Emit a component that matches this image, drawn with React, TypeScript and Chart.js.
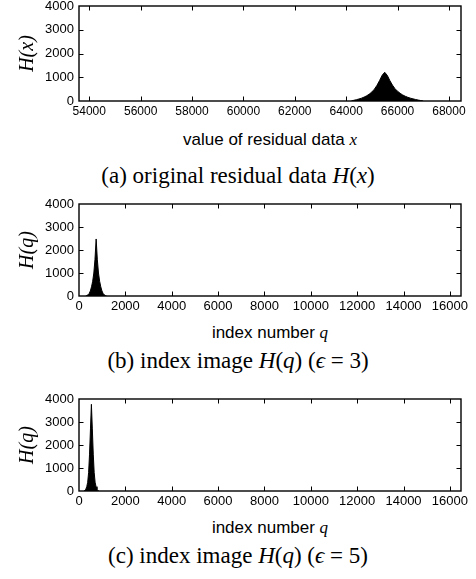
import React, { useEffect, useRef } from "react";
import { Chart, registerables } from "chart.js";

Chart.register(...registerables);

// ---------- data ----------
const residualX = [64200, 64300, 64400, 64500, 64600, 64700, 64800, 64900, 65000, 65100, 65200, 65300, 65400, 65500, 65600, 65700, 65800, 65900, 66000, 66100, 66200, 66300, 66400, 66500, 66600, 66700, 66800, 66900, 67000];
const residualH = [0, 30, 55, 85, 120, 165, 220, 290, 380, 500, 660, 860, 1080, 1210, 1080, 860, 670, 520, 410, 325, 255, 200, 155, 120, 90, 65, 40, 20, 0];

const eps3Q = [290, 340, 390, 440, 490, 540, 590, 640, 690, 740, 790, 840, 890, 940, 990, 1040, 1090, 1140, 1190];
const eps3H = [0, 20, 50, 110, 220, 400, 640, 1000, 1600, 2480, 1600, 1000, 640, 400, 220, 110, 50, 20, 0];

const eps5Q = [215, 255, 295, 335, 375, 415, 455, 495, 535, 575, 615, 655, 695, 735, 775, 815, 855];
const eps5H = [0, 25, 80, 190, 380, 800, 1600, 2700, 3770, 2700, 1600, 800, 380, 190, 80, 25, 0];

const residualTicks = [54000, 56000, 58000, 60000, 62000, 64000, 66000, 68000];
const indexTicks = [0, 2000, 4000, 6000, 8000, 10000, 12000, 14000, 16000];
const countTicks = [0, 1000, 2000, 3000, 4000];

const SANS = "'Liberation Sans', Arial, Helvetica, sans-serif";
const SERIF = "'Liberation Serif', 'Times New Roman', 'DejaVu Serif', serif";

const frameTicks = {
  id: "frameTicks",
  afterDatasetsDraw(chart: any) {
    const { ctx, chartArea: a, scales } = chart;
    const x = scales.x;
    const y = scales.y;
    const L = 4.5;
    ctx.save();
    ctx.strokeStyle = "#000";
    ctx.lineWidth = 1;
    ctx.beginPath();
    x.ticks.forEach((t: any) => {
      const px = Math.round(x.getPixelForValue(t.value)) + 0.5;
      if (px <= a.left + 1 || px >= a.right - 1) return;
      ctx.moveTo(px, a.bottom);
      ctx.lineTo(px, a.bottom - L);
      ctx.moveTo(px, a.top);
      ctx.lineTo(px, a.top + L);
    });
    y.ticks.forEach((t: any) => {
      const py = Math.round(y.getPixelForValue(t.value)) + 0.5;
      if (py <= a.top + 1 || py >= a.bottom - 1) return;
      ctx.moveTo(a.left, py);
      ctx.lineTo(a.left + L, py);
      ctx.moveTo(a.right, py);
      ctx.lineTo(a.right - L, py);
    });
    ctx.stroke();
    ctx.lineWidth = 1.4;
    ctx.strokeRect(a.left, a.top, a.right - a.left, a.bottom - a.top);
    ctx.restore();
  },
};

type PanelProps = {
  xs: number[];
  ys: number[];
  xTicks: number[];
  xMin: number;
  xMax: number;
  yTitle: string;
  canvasTop: number;
  areaTop: number;
  areaBottom: number;
  xTickSize: number;
};

const X_AXIS_H = 24;

function Panel(p: PanelProps) {
  const ref = useRef<HTMLCanvasElement | null>(null);
  const height = p.areaBottom - p.canvasTop + X_AXIS_H;
  useEffect(() => {
    if (!ref.current) return;
    const chart = new Chart(ref.current, {
      type: "line",
      data: {
        datasets: [
          {
            data: p.xs.map((x, i) => ({ x, y: p.ys[i] })),
            fill: "origin",
            backgroundColor: "#000",
            borderColor: "#000",
            borderWidth: 1,
            pointRadius: 0,
            tension: 0,
          },
        ],
      },
      options: {
        animation: false,
        responsive: false,
        devicePixelRatio: 1,
        layout: { padding: { left: 13, right: 15, top: p.areaTop - p.canvasTop, bottom: 0 } },
        plugins: { legend: { display: false }, tooltip: { enabled: false } },
        scales: {
          x: {
            type: "linear",
            min: p.xMin,
            max: p.xMax,
            grid: { display: false, drawTicks: false },
            border: { display: false },
            afterBuildTicks: (s: any) => {
              s.ticks = p.xTicks.map((v) => ({ value: v }));
            },
            afterFit: (s: any) => {
              s.height = X_AXIS_H;
              s.paddingLeft = 0;
              s.paddingRight = 0;
            },
            ticks: {
              color: "#000",
              padding: 3,
              maxRotation: 0,
              autoSkip: false,
              font: { family: SANS, size: p.xTickSize },
              callback: (v: any) => String(v),
            },
          },
          y: {
            min: 0,
            max: 4000,
            grid: { display: false, drawTicks: false },
            border: { display: false },
            afterBuildTicks: (s: any) => {
              s.ticks = countTicks.map((v) => ({ value: v }));
            },
            afterFit: (s: any) => {
              s.width = 66;
              s.paddingTop = 0;
              s.paddingBottom = 0;
            },
            ticks: {
              color: "#000",
              padding: 5,
              autoSkip: false,
              font: { family: SANS, size: 13 },
              callback: (v: any) => String(v),
            },
            title: {
              display: true,
              text: p.yTitle,
              color: "#000",
              padding: { top: 5, bottom: 0 },
              font: { family: SERIF, size: 20, style: "italic", lineHeight: 1 },
            },
          },
        },
      },
      plugins: [frameTicks],
    } as any);
    return () => chart.destroy();
  }, []);
  return (
    <canvas
      ref={ref}
      width={476}
      height={height}
      style={{ position: "absolute", left: 0, top: p.canvasTop, width: 476, height, display: "block" }}
    />
  );
}

function Text(props: { baseline: number; size: number; serif?: boolean; left: number; width: number; children: any }) {
  const asc = props.serif ? 0.838 : 0.8465;
  return (
    <div
      style={{
        position: "absolute",
        left: props.left,
        width: props.width,
        top: props.baseline - asc * props.size,
        fontFamily: props.serif ? SERIF : SANS,
        fontSize: props.size,
        lineHeight: 1,
        textAlign: "center",
        whiteSpace: "nowrap",
        color: "#000",
      }}
    >
      {props.children}
    </div>
  );
}

const mi: React.CSSProperties = { fontFamily: SERIF, fontStyle: "italic" };

export default function App() {
  return (
    <div style={{ position: "absolute", left: 0, top: 0, width: 476, height: 579, background: "#fff", overflow: "hidden" }}>
      <Panel xs={residualX} ys={residualH} xTicks={residualTicks} xMin={53600} xMax={68470} yTitle="H(x)" canvasTop={0} areaTop={6} areaBottom={101} xTickSize={12} />
      <Text baseline={145} size={17} left={79} width={382}>
        value of residual data <span style={mi}>x</span>
      </Text>
      <Text baseline={183} size={23} serif left={0} width={476}>
        (a) original residual data <span style={mi}>H</span>(<span style={mi}>x</span>)
      </Text>

      <Panel xs={eps3Q} ys={eps3H} xTicks={indexTicks} xMin={0} xMax={16480} yTitle="H(q)" canvasTop={195} areaTop={204} areaBottom={296} xTickSize={13} />
      <Text baseline={338} size={17} left={79} width={382}>
        index number <span style={mi}>q</span>
      </Text>
      <Text baseline={368} size={23} serif left={0} width={476}>
        (b) index image <span style={mi}>H</span>(<span style={mi}>q</span>) (<span style={mi}>ϵ</span> = 3)
      </Text>

      <Panel xs={eps5Q} ys={eps5H} xTicks={indexTicks} xMin={0} xMax={16480} yTitle="H(q)" canvasTop={390} areaTop={399} areaBottom={491} xTickSize={13} />
      <Text baseline={533} size={17} left={79} width={382}>
        index number <span style={mi}>q</span>
      </Text>
      <Text baseline={563} size={23} serif left={0} width={476}>
        (c) index image <span style={mi}>H</span>(<span style={mi}>q</span>) (<span style={mi}>ϵ</span> = 5)
      </Text>
    </div>
  );
}
